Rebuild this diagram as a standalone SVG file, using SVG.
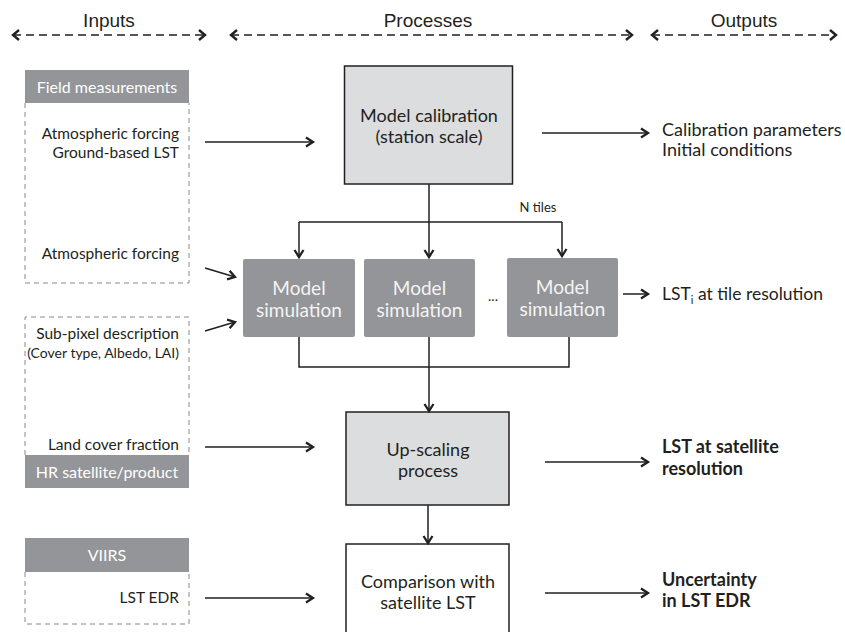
<svg xmlns="http://www.w3.org/2000/svg" width="845" height="632" viewBox="0 0 845 632">
<style>
.hd{font-family:"Liberation Sans",Arial,sans-serif;font-size:19px;fill:#231f20;text-anchor:middle}
.t{font-family:Lato,"Open Sans",sans-serif;fill:#231f20}
.in{font-size:15.5px;text-anchor:end}
.wh{font-family:Lato,"Open Sans",sans-serif;font-size:16px;fill:#ffffff;text-anchor:middle}
.bx{font-size:18px;text-anchor:middle}
.sim{font-family:Lato,"Open Sans",sans-serif;font-size:19px;fill:#f4f4f4;text-anchor:middle}
.out{font-size:18px}
.b{font-weight:bold}
.hdr{fill:#939598}
.dsh{fill:none;stroke:#8a8a8a;stroke-width:1;stroke-dasharray:5,4}
.ln{fill:none;stroke:#231f20;stroke-width:1.5}
.ar{fill:none;stroke:#231f20;stroke-width:1.5;marker-end:url(#ah)}
.dd{fill:none;stroke:#231f20;stroke-width:1.3;stroke-dasharray:8,5;marker-start:url(#ahs);marker-end:url(#ah2)}
</style>
<defs>
<marker id="ah" markerUnits="userSpaceOnUse" markerWidth="12" markerHeight="12" refX="9" refY="6" orient="auto">
<path d="M2,1.5 L9,6 L2,10.5" fill="none" stroke="#231f20" stroke-width="2.3"/>
</marker>
<marker id="ah2" markerUnits="userSpaceOnUse" markerWidth="12" markerHeight="14" refX="9" refY="7" orient="auto">
<path d="M3,2 L9,7 L3,12" fill="none" stroke="#231f20" stroke-width="2.4"/>
</marker>
<marker id="ahs" markerUnits="userSpaceOnUse" markerWidth="12" markerHeight="14" refX="3" refY="7" orient="auto">
<path d="M9,2 L3,7 L9,12" fill="none" stroke="#231f20" stroke-width="2.4"/>
</marker>
</defs>
<rect width="845" height="632" fill="#ffffff"/>

<g id="headers">
<text class="hd" x="109" y="27">Inputs</text>
<line class="dd" x1="13" y1="35" x2="205" y2="35"/>
<text class="hd" x="428" y="27">Processes</text>
<line class="dd" x1="231" y1="35" x2="632" y2="35"/>
<text class="hd" x="744" y="27">Outputs</text>
<line class="dd" x1="652" y1="35" x2="836" y2="35"/>
</g>

<g id="field-measurements">
<rect class="hdr" x="25" y="70" width="164" height="33"/>
<text class="wh" x="107" y="93">Field measurements</text>
<path class="dsh" d="M25,103 V283 H189 V103"/>
<text class="t in" x="179" y="139">Atmospheric forcing</text>
<text class="t in" x="179" y="158">Ground-based LST</text>
<text class="t in" x="179" y="259">Atmospheric forcing</text>
</g>

<g id="hr-satellite">
<path class="dsh" d="M25,455 V317 H189 V455"/>
<rect class="hdr" x="25" y="455" width="164" height="33"/>
<text class="wh" x="107" y="478">HR satellite/product</text>
<text class="t in" x="179" y="339">Sub-pixel description</text>
<text class="t" x="179" y="358" font-size="14" text-anchor="end">(Cover type, Albedo, LAI)</text>
<text class="t in" x="179" y="450">Land cover fraction</text>
</g>

<g id="viirs">
<rect class="hdr" x="25" y="538" width="164" height="34"/>
<text class="wh" x="107" y="561">VIIRS</text>
<path class="dsh" d="M25,572 V624 H189 V572"/>
<text class="t in" x="179" y="603">LST EDR</text>
</g>

<g id="model-calibration">
<rect x="344.5" y="66" width="168" height="118" fill="#dcddde" stroke="#231f20" stroke-width="1.5"/>
<text class="t bx" x="429" y="122">Model calibration</text>
<text class="t bx" x="429" y="143">(station scale)</text>
</g>

<g id="model-simulation-1">
<rect x="243" y="259" width="112" height="78" rx="2" fill="#939598"/>
<text class="sim" x="299" y="295">Model</text>
<text class="sim" x="299" y="317">simulation</text>
</g>
<g id="model-simulation-2">
<rect x="364" y="259" width="111" height="78" rx="2" fill="#939598"/>
<text class="sim" x="419.5" y="295">Model</text>
<text class="sim" x="419.5" y="317">simulation</text>
</g>
<text class="t" x="493" y="301" font-size="14" text-anchor="middle" fill="#555">...</text>
<g id="model-simulation-3">
<rect x="507" y="258" width="111" height="79" rx="2" fill="#939598"/>
<text class="sim" x="562.5" y="294">Model</text>
<text class="sim" x="562.5" y="316">simulation</text>
</g>

<g id="up-scaling">
<rect x="346" y="412" width="163" height="93" fill="#dcddde" stroke="#231f20" stroke-width="1.5"/>
<text class="t bx" x="428" y="456">Up-scaling</text>
<text class="t bx" x="428" y="477">process</text>
</g>

<g id="comparison">
<rect x="346" y="544" width="163" height="100" fill="#ffffff" stroke="#231f20" stroke-width="1.5"/>
<text class="t bx" x="428" y="588">Comparison with</text>
<text class="t bx" x="428" y="609">satellite LST</text>
</g>

<g id="outputs">
<text class="t" x="662" y="136" font-size="18">Calibration parameters</text>
<text class="t" x="662" y="156" font-size="18">Initial conditions</text>
<text class="t" x="662" y="300" font-size="17.5">LST<tspan font-size="11" dy="4">i</tspan><tspan dy="-4"> at tile resolution</tspan></text>
<text class="t out b" x="662" y="453">LST at satellite</text>
<text class="t out b" x="662" y="475">resolution</text>
<text class="t out b" x="662" y="586">Uncertainty</text>
<text class="t out b" x="662" y="607">in LST EDR</text>
</g>

<text class="t" x="538" y="212" font-size="13" text-anchor="middle">N tiles</text>

<g id="connectors">
<line class="ar" x1="205" y1="142" x2="313" y2="142"/>
<line class="ar" x1="205" y1="268" x2="235" y2="277"/>
<line class="ar" x1="205" y1="331" x2="235" y2="322"/>
<line class="ar" x1="205" y1="447" x2="313" y2="447"/>
<line class="ar" x1="205" y1="598" x2="313" y2="598"/>
<line class="ar" x1="542" y1="133" x2="648" y2="133"/>
<line class="ar" x1="623" y1="294" x2="648" y2="294"/>
<line class="ar" x1="545" y1="462" x2="648" y2="462"/>
<line class="ar" x1="545" y1="593" x2="648" y2="593"/>
<line class="ln" x1="429" y1="184" x2="429" y2="222"/>
<line class="ln" x1="299" y1="222" x2="562" y2="222"/>
<line class="ar" x1="299" y1="222" x2="299" y2="257"/>
<line class="ar" x1="429" y1="222" x2="429" y2="257"/>
<line class="ar" x1="562" y1="222" x2="562" y2="256"/>
<path class="ln" d="M299,337 V367 H569 V337"/>
<line class="ar" x1="429" y1="337" x2="429" y2="411"/>
<line class="ar" x1="428" y1="505" x2="428" y2="543"/>
</g>
</svg>
